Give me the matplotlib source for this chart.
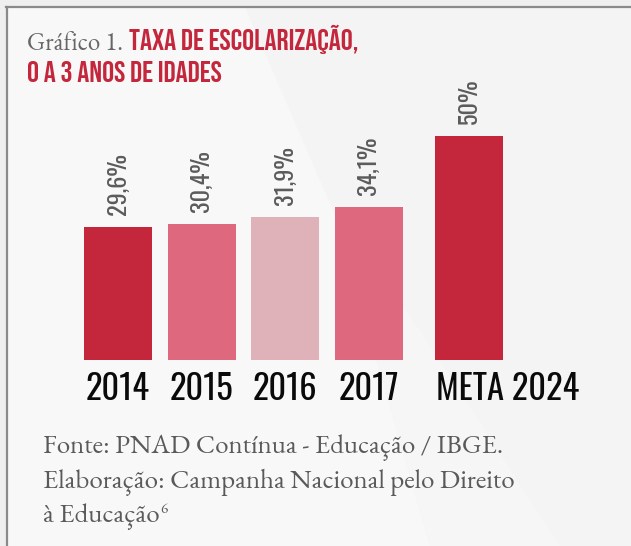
import matplotlib
matplotlib.use('Agg')
import matplotlib.pyplot as plt
from matplotlib import font_manager as fm
from matplotlib.font_manager import FontProperties
from matplotlib.patches import Polygon
from matplotlib.lines import Line2D
import matplotlib.transforms as mtrans

# ---------------- data ----------------
categories = ['2014', '2015', '2016', '2017', 'META 2024']
values = [29.6, 30.4, 31.9, 34.1, 50]
value_labels = ['29,6%', '30,4%', '31,9%', '34,1%', '50%']

title_prefix = 'Gráfico 1.'
title_line1 = 'TAXA DE ESCOLARIZAÇÃO,'
title_line2 = 'O A 3 ANOS DE IDADES'
footer_lines = ['Fonte: PNAD Contínua - Educação / IBGE.',
                'Elaboração: Campanha Nacional pelo Direito',
                'à Educação']
footnote = '6'

# ---------------- style / layout ----------------
bar_colors = ['#c4263b', '#de687d', '#dfb2ba', '#de687d', '#c4263b']
xpos = [0, 1, 2, 3, 4.2]
W, H, DPI = 631, 546, 100

names = {f.name for f in fm.fontManager.ttflist}


def pick(cands, weight):
    for n in cands:
        if n in names:
            return FontProperties(family=n, weight=weight)
    return FontProperties(family='DejaVu Sans', weight=weight)


COND_FP = pick(['Oswald', 'Bebas Neue', 'Roboto Condensed',
                'Liberation Sans Narrow', 'DejaVu Sans'], 300)
CONDB_FP = pick(['Bebas Neue', 'Oswald', 'Roboto Condensed',
                 'Liberation Sans Narrow', 'DejaVu Sans'], 'bold')
SERIF = 'EB Garamond' if 'EB Garamond' in names else (
    'Liberation Serif' if 'Liberation Serif' in names else 'DejaVu Serif')

fig = plt.figure(figsize=(W / DPI, H / DPI), dpi=DPI)
fig.patch.set_facecolor('#efefef')
r = fig.canvas.get_renderer()


def fx(px):
    return px / W


def fy(py):
    return 1 - py / H


def fit_width(t, target):
    fig.canvas.draw()
    w = t.get_window_extent(r).width
    t.set_fontsize(t.get_fontsize() * target / w)
    return t.get_fontsize()


# background panel with subtle diagonal light areas
bg = fig.add_axes([0, 0, 1, 1])
bg.set_xlim(0, W); bg.set_ylim(H, 0); bg.axis('off')
bg.add_patch(Polygon([[7, 7], [W, 7], [W, H], [7, H]], closed=True,
                     facecolor='#f4f4f4', edgecolor='none'))
bg.add_patch(Polygon([[7, 7], [245, 7], [335, 215], [430, H], [7, H]], closed=True,
                     facecolor='#f8f8f8', edgecolor='none'))
bg.add_patch(Polygon([[430, H], [335, 215], [420, 330], [560, H]], closed=True,
                     facecolor='#f6f6f6', edgecolor='none'))
bg.add_line(Line2D([6, W], [7, 7], color='#8a8a8a', lw=1.6))
bg.add_line(Line2D([7, 7], [7, H], color='#8a8a8a', lw=1.6))

# ---------------- bars ----------------
ax_bottom_px, ax_top_px = 360, 60
ax = fig.add_axes([0, fy(ax_bottom_px), 1, (ax_bottom_px - ax_top_px) / H])
ax.patch.set_alpha(0)
px_per_unit = 83.6
x0_px = 118
ax.set_xlim(-x0_px / px_per_unit, (W - x0_px) / px_per_unit)
ax.set_ylim(0, 50 * (ax_bottom_px - ax_top_px) / 224)
for s in ax.spines.values():
    s.set_visible(False)
ax.set_yticks([])

ax.bar(xpos, values, width=68 / px_per_unit, color=bar_colors, linewidth=0)

vlabs = []
for x, v, lab in zip(xpos, values, value_labels):
    vlabs.append(ax.annotate(lab, (x, v), xytext=(0, 12), textcoords='offset pixels',
                             rotation=90, ha='center', va='bottom', color='#5b5b5b',
                             fontproperties=COND_FP, fontsize=20))

ax.set_xticks(xpos)
ax.set_xticklabels(categories, fontproperties=COND_FP, fontsize=26.5, color='#0a0a0a')
ax.tick_params(axis='x', length=0, pad=8.5)
tl = ax.get_xticklabels()
fig.canvas.draw()
# value labels: '29,6%' about 62 px long
hv = vlabs[0].get_window_extent(r).height
vsz = 20 * 62 / hv
for t in vlabs:
    t.set_fontsize(vsz)
# tick labels: '2014' about 64 px wide
wt = tl[0].get_window_extent(r).width
tsz = 26.5 * 64 / wt
for t in tl:
    t.set_fontsize(tsz)
tl[-1].set_ha('left')
tl[-1].set_transform(tl[-1].get_transform() +
                     mtrans.ScaledTranslation(-33 / DPI, 0, fig.dpi_scale_trans))

# ---------------- title ----------------
t0 = fig.text(fx(27), fy(50), title_prefix, family=SERIF, fontsize=17,
              color='#666666', va='baseline', ha='left')
fit_width(t0, 96)
fig.canvas.draw()
bb0 = t0.get_window_extent(r)
t1 = fig.text(fx(bb0.x1 + 6), fy(50), title_line1, fontproperties=CONDB_FP,
              fontsize=16, color='#c4263b', va='baseline', ha='left')
tsz1 = fit_width(t1, 229)
t2 = fig.text(fx(27), fy(82), title_line2, fontproperties=CONDB_FP,
              fontsize=tsz1, color='#c4263b', va='baseline', ha='left')

# ---------------- footer ----------------
baselines = [453, 488, 522]
fts = [fig.text(fx(43), fy(b), s, family=SERIF, fontsize=19, color='#5a5a5a',
                va='baseline', ha='left') for s, b in zip(footer_lines, baselines)]
fsz = fit_width(fts[0], 460)
for t in fts:
    t.set_fontsize(fsz)
fig.canvas.draw()
bbl = fts[2].get_window_extent(r)
fig.text(fx(bbl.x1 + 1), fy(baselines[2] - 9), footnote, family=SERIF,
         fontsize=fsz * 0.55, color='#5a5a5a', va='baseline', ha='left')

fig.savefig('out.png', dpi=DPI, facecolor=fig.get_facecolor())
